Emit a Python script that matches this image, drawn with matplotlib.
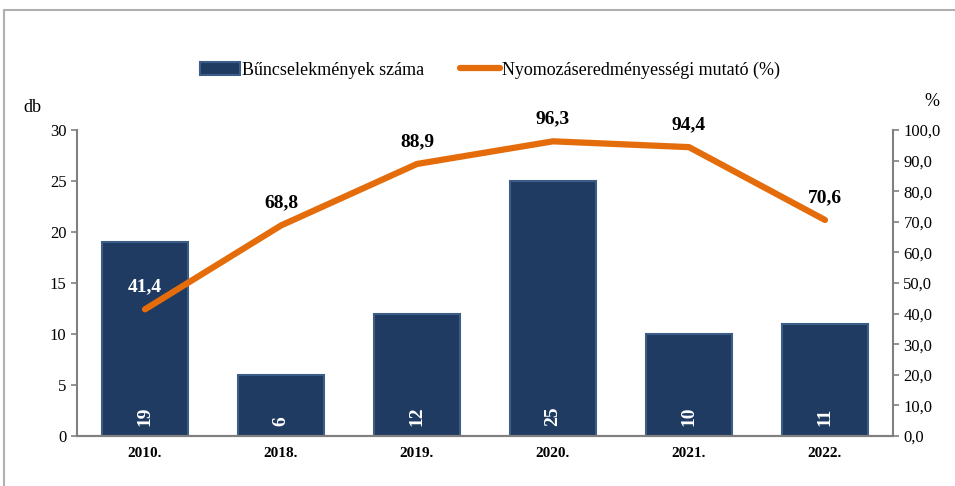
import numpy as np
import matplotlib.pyplot as plt
from matplotlib.patches import Rectangle

# adatok
evek = ['2010.', '2018.', '2019.', '2020.', '2021.', '2022.']
buncselekmenyek = [19, 6, 12, 25, 10, 11]
mutato = [41.4, 68.8, 88.9, 96.3, 94.4, 70.6]
mutato_cimke = ['41,4', '68,8', '88,9', '96,3', '94,4', '70,6']

plt.rcParams['font.family'] = ['Liberation Serif', 'DejaVu Serif']

fig = plt.figure(figsize=(9.55, 4.86), dpi=100)
# keret (a kép jobb és alsó szélén túlnyúlik)
fig.patches.append(Rectangle((4 / 955, -0.1), 1.2, 1.1 - 10 / 486, transform=fig.transFigure,
                             fill=False, edgecolor='#b0b0b0', linewidth=1.5))

ax = fig.add_axes([77 / 955, 1 - 436 / 486, 816 / 955, 306 / 486])
ax2 = ax.twinx()

x = np.arange(len(evek))
ax.bar(x, buncselekmenyek, width=0.63, color='#1f3b62', edgecolor='#3c5d88', linewidth=1.5,
       label='Bűncselekmények száma', zorder=2)
for xi, v in zip(x, buncselekmenyek):
    ax.text(xi, 1.0, str(v), rotation=90, ha='center', va='bottom', color='white',
            fontsize=14, fontweight='bold', zorder=3)

ax2.plot(x, mutato, color='#e46c0a', linewidth=4.5, solid_capstyle='round',
         label='Nyomozáseredményességi mutató (%)', zorder=4)
for i, (xi, v, s) in enumerate(zip(x, mutato, mutato_cimke)):
    ax2.text(xi, v + 4.5, s, ha='center', va='bottom', fontsize=14, fontweight='bold',
             color='white' if i == 0 else 'black')

ax.set_xlim(-0.5, len(evek) - 0.5)
ax.set_ylim(0, 30)
ax.set_yticks(range(0, 31, 5))
ax2.set_ylim(0, 100)
ax2.set_yticks(range(0, 101, 10))
ax2.set_yticklabels([f'{t},0' for t in range(0, 101, 10)])
ax.set_xticks(x)
ax.set_xticklabels(evek, fontweight='bold', fontsize=11)

for a in (ax, ax2):
    a.spines['top'].set_visible(False)
    for s in ('left', 'right', 'bottom'):
        a.spines[s].set_color('#808080')
        a.spines[s].set_linewidth(1.5)
    a.tick_params(axis='y', labelsize=12, colors='#808080', labelcolor='black', length=4, width=1.2)
ax.tick_params(axis='x', length=0, pad=8)
ax2.spines['left'].set_visible(False)
ax.spines['right'].set_visible(False)

fig.text(32 / 955, 1 - 107 / 486, 'db', fontsize=13, ha='center', va='center')
fig.text(932 / 955, 1 - 101 / 486, '%', fontsize=13, ha='center', va='center')

h1, l1 = ax.get_legend_handles_labels()
h2, l2 = ax2.get_legend_handles_labels()
fig.legend(h1 + h2, l1 + l2, loc='center', bbox_to_anchor=(490 / 955, 1 - 70 / 486), ncol=2,
           frameon=False, fontsize=13, handlelength=2.2, handletextpad=0.1, columnspacing=2.0)

fig.savefig('out.png', dpi=100)
